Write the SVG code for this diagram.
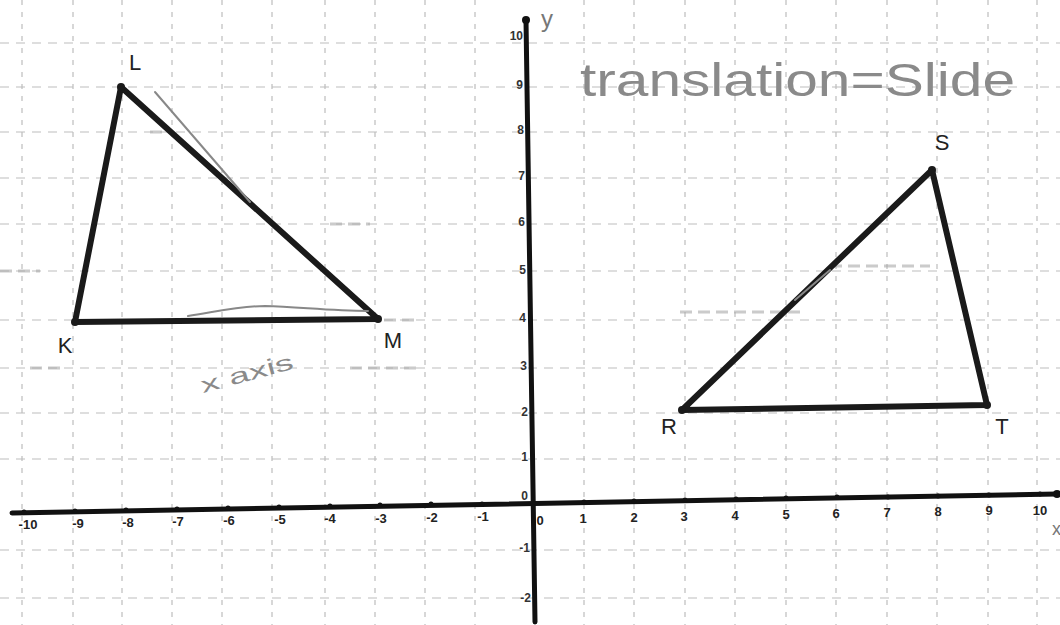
<svg xmlns="http://www.w3.org/2000/svg" width="1060" height="625" viewBox="0 0 1060 625">
<style>
.gv{stroke:#bdbdbd;stroke-width:1.2;stroke-dasharray:5 7;fill:none}
.gh{stroke:#bdbdbd;stroke-width:1.2;stroke-dasharray:9 7;fill:none}
.gd{stroke:#a8a8a8;stroke-width:3;stroke-dasharray:12 6;fill:none;opacity:.6}
.axis{stroke:#111;stroke-width:5;fill:none;stroke-linecap:round}
.tri{stroke:#1a1a1a;stroke-width:6;fill:none;stroke-linejoin:round;stroke-linecap:round}
.pen{stroke:#888;stroke-width:2;fill:none;stroke-linecap:round}
.tk{font-family:"Liberation Sans",sans-serif;font-size:13px;font-weight:bold;fill:#222;text-anchor:middle}
.tky{font-family:"Liberation Sans",sans-serif;font-size:12px;font-weight:bold;fill:#333;text-anchor:end}
.vl{font-family:"Liberation Sans",sans-serif;font-size:22px;fill:#222;text-anchor:middle}
.hw{font-family:"Liberation Sans",sans-serif;fill:#8a8a8a}
</style>
<rect width="1060" height="625" fill="#ffffff"/>
<g id="grid">
<path class="gv" d="M22 0V625M73 0V625M122 0V625M172 0V625M222 0V625M272 0V625M325 0V625M375 0V625M425 0V625M475 0V625M584 0V625M634 0V625M685 0V625M735 0V625M786 0V625M836 0V625M887 0V625M937 0V625M988 0V625M1037 0V625"/>
<path class="gh" d="M0 43H1060M0 87H1060M0 132H1060M0 178H1060M0 224H1060M0 271H1060M0 320H1060M0 368H1060M0 413H1060M0 459H1060M0 550H1060M0 598H1060"/>
<path class="gd" d="M150 132H170M0 271H40M330 224H370M30 368H60M350 368H420M830 266H930M680 312H800M330 320H420"/>
</g>
<g id="axes">
<line class="axis" x1="12" y1="513" x2="1057" y2="494"/>
<line class="axis" x1="526" y1="20" x2="535" y2="622"/>
<circle cx="526" cy="20" r="4" fill="#111"/>
<circle cx="1057" cy="494" r="4" fill="#111"/>
<g fill="#111">
<circle cx="24" cy="512" r="2.5"/><circle cx="75" cy="511" r="2.5"/><circle cx="126" cy="510" r="2.5"/><circle cx="177" cy="509" r="2.5"/><circle cx="228" cy="508" r="2.5"/><circle cx="279" cy="507" r="2.5"/><circle cx="330" cy="506" r="2.5"/><circle cx="380" cy="505" r="2.5"/><circle cx="431" cy="504" r="2.5"/><circle cx="482" cy="504" r="2.5"/>
<circle cx="584" cy="502" r="2.5"/><circle cx="634" cy="501" r="2.5"/><circle cx="685" cy="500" r="2.5"/><circle cx="736" cy="499" r="2.5"/><circle cx="786" cy="498" r="2.5"/><circle cx="837" cy="497" r="2.5"/><circle cx="888" cy="497" r="2.5"/><circle cx="938" cy="496" r="2.5"/><circle cx="989" cy="495" r="2.5"/><circle cx="1040" cy="494" r="2.5"/>
</g>
<g>
<text class="tk" x="28" y="529">-10</text><text class="tk" x="78" y="528">-9</text><text class="tk" x="128" y="527">-8</text><text class="tk" x="178" y="526">-7</text><text class="tk" x="229" y="525">-6</text><text class="tk" x="280" y="524">-5</text><text class="tk" x="330" y="523">-4</text><text class="tk" x="381" y="523">-3</text><text class="tk" x="432" y="522">-2</text><text class="tk" x="483" y="521">-1</text>
<text class="tk" x="540" y="525">0</text><text class="tk" x="583" y="523">1</text><text class="tk" x="634" y="522">2</text><text class="tk" x="684" y="521">3</text><text class="tk" x="735" y="520">4</text><text class="tk" x="786" y="519">5</text><text class="tk" x="836" y="518">6</text><text class="tk" x="887" y="517">7</text><text class="tk" x="938" y="516">8</text><text class="tk" x="989" y="515">9</text><text class="tk" x="1040" y="515">10</text>
</g>
<g>
<text class="tky" x="523" y="40">10</text><text class="tky" x="523" y="89">9</text><text class="tky" x="524" y="134">8</text><text class="tky" x="525" y="180">7</text><text class="tky" x="525" y="226">6</text><text class="tky" x="526" y="274">5</text><text class="tky" x="526" y="322">4</text><text class="tky" x="527" y="370">3</text><text class="tky" x="528" y="416">2</text><text class="tky" x="528" y="461">1</text><text class="tky" x="528" y="500">0</text><text class="tky" x="530" y="552">-1</text><text class="tky" x="531" y="602">-2</text>
</g>
<text x="541" y="27" font-family="Liberation Sans,sans-serif" font-size="24" fill="#777">y</text>
<text x="1052" y="535" font-family="Liberation Sans,sans-serif" font-size="18" fill="#777">x</text>
</g>
<g id="triangle-KLM">
<polygon class="tri" points="121,87 75,322 378,319"/>
<g fill="#1a1a1a"><circle cx="121" cy="87" r="4"/><circle cx="75" cy="322" r="4"/><circle cx="378" cy="319" r="4"/></g>
<path class="pen" d="M155 92L250 202"/>
<path class="pen" d="M188 316C215 312 240 306 265 306C300 307 330 311 368 311"/>
<text class="vl" x="135" y="70">L</text>
<text class="vl" x="65" y="353">K</text>
<text class="vl" x="393" y="348">M</text>
</g>
<g id="triangle-RST">
<polygon class="tri" points="682,410 932,170 987,405"/>
<g fill="#1a1a1a"><circle cx="682" cy="410" r="4"/><circle cx="932" cy="170" r="4"/><circle cx="987" cy="405" r="4"/></g>
<path class="pen" d="M795 300L830 270"/>
<text class="vl" x="942" y="150">S</text>
<text class="vl" x="669" y="434">R</text>
<text class="vl" x="1002" y="434" fill="#666">T</text>
</g>
<g id="notes">
<text class="hw" x="580" y="96" font-size="46" font-weight="300" textLength="435" lengthAdjust="spacingAndGlyphs">translation=Slide</text>
<text class="hw" x="203" y="393" font-size="22" transform="rotate(-15 203 393)" textLength="95" lengthAdjust="spacingAndGlyphs">x axis</text>
</g>
</svg>
